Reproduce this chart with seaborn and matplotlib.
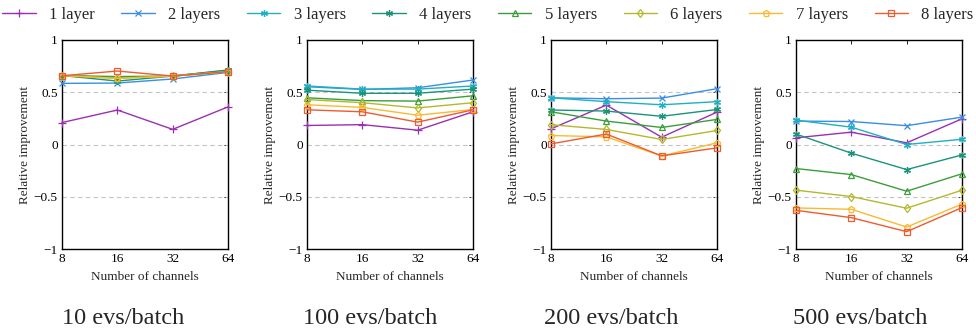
import numpy as np
import pandas as pd
import matplotlib
matplotlib.use("Agg")
import matplotlib.pyplot as plt
import seaborn as sns

channels = [8, 16, 32, 64]
layer_names = ["1 layer", "2 layers", "3 layers", "4 layers",
               "5 layers", "6 layers", "7 layers", "8 layers"]
batch_titles = ["10 evs/batch", "100 evs/batch", "200 evs/batch", "500 evs/batch"]

# relative improvement, one list per layer count, per panel
evs10 = [
    [0.21, 0.33, 0.145, 0.36],
    [0.585, 0.588, 0.627, 0.69],
    [0.66, 0.64, 0.655, 0.71],
    [0.66, 0.607, 0.655, 0.713],
    [0.66, 0.65, 0.655, 0.70],
    [0.66, 0.633, 0.655, 0.697],
    [0.66, 0.633, 0.655, 0.697],
    [0.658, 0.703, 0.655, 0.697],
]
evs100 = [
    [0.182, 0.19, 0.137, 0.313],
    [0.553, 0.527, 0.543, 0.617],
    [0.56, 0.53, 0.53, 0.56],
    [0.52, 0.49, 0.49, 0.53],
    [0.447, 0.42, 0.415, 0.466],
    [0.43, 0.40, 0.35, 0.40],
    [0.38, 0.355, 0.28, 0.335],
    [0.332, 0.313, 0.214, 0.332],
]
evs200 = [
    [0.15, 0.377, 0.07, 0.31],
    [0.447, 0.438, 0.444, 0.534],
    [0.447, 0.41, 0.38, 0.41],
    [0.33, 0.32, 0.27, 0.335],
    [0.313, 0.224, 0.163, 0.24],
    [0.19, 0.144, 0.048, 0.134],
    [0.086, 0.073, -0.11, 0.016],
    [0.006, 0.10, -0.109, -0.032],
]
evs500 = [
    [0.064, 0.118, 0.016, 0.246],
    [0.224, 0.22, 0.18, 0.262],
    [0.233, 0.166, 0.0, 0.05],
    [0.10, -0.083, -0.24, -0.10],
    [-0.23, -0.288, -0.447, -0.28],
    [-0.437, -0.498, -0.61, -0.437],
    [-0.607, -0.62, -0.79, -0.57],
    [-0.63, -0.70, -0.834, -0.604],
]
panels = [evs10, evs100, evs200, evs500]

colors = ["#9a2fb5", "#3a8ee6", "#1fb0c3", "#1a9479",
          "#3a9e3a", "#b5b82c", "#fbb92e", "#ef5a2f"]
markers = ["+", "x", (6, 2, 0), (6, 2, 0), "^", "d", "p", "s"]
msizes = [6, 4, 5, 5, 4.5, 4.5, 4.5, 4.5]

sns.set_theme(style="white")
plt.rcParams["font.family"] = ["Liberation Serif", "DejaVu Serif"]

fig = plt.figure(figsize=(9.76, 3.33), dpi=100)
lefts = [62, 307, 551, 796]
titles_x = [123, 370, 611, 860]

for p, data in enumerate(panels):
    ax = fig.add_axes([lefts[p] / 976, 1 - 249 / 333, 166 / 976, 209 / 333])
    for i, name in enumerate(layer_names):
        df = pd.DataFrame({"ch": channels, "val": data[i]})
        open_mk = i >= 4
        sns.lineplot(data=df, x="ch", y="val", ax=ax, color=colors[i],
                     marker=markers[i], markersize=msizes[i],
                     markeredgecolor=colors[i], markeredgewidth=0.9,
                     markerfacecolor="none" if open_mk else colors[i],
                     linewidth=1.0, label=name, clip_on=False, zorder=3 + i)
    ax.set_xscale("log", base=2)
    ax.set_xlim(8, 64)
    ax.set_ylim(-1, 1)
    ax.set_xticks(channels)
    ax.set_xticklabels([str(c) for c in channels])
    ax.minorticks_off()
    ax.set_yticks([-1, -0.5, 0, 0.5, 1])
    ax.set_yticklabels(["\u22121", "\u22120.5", "0", "0.5", "1"])
    for y in [-0.5, 0, 0.5]:
        ax.axhline(y, color="#c4c4c4", lw=0.8, ls=(0, (4, 3)), zorder=1)
    ax.tick_params(direction="in", length=3, width=0.6, top=True, right=True,
                   labelsize=9.5, colors="black", pad=3)
    for s in ax.spines.values():
        s.set_color("black")
        s.set_linewidth(1.0)
    ax.set_xlabel("Number of channels", fontsize=9.5, labelpad=4)
    ax.set_ylabel("Relative improvement", fontsize=9.5, labelpad=2)
    ax.get_legend().remove()
    if p == 0:
        handles, labels = ax.get_legend_handles_labels()
    fig.text(titles_x[p] / 976, 1 - 318 / 333, batch_titles[p],
             fontsize=17.5, ha="center", va="center")

fig.legend(handles, labels, loc="upper center", bbox_to_anchor=(0.5, 1.025),
           ncol=8, frameon=False, fontsize=12, handlelength=2.0,
           columnspacing=1.6, handletextpad=0.8)

fig.savefig("out.png", dpi=100)
